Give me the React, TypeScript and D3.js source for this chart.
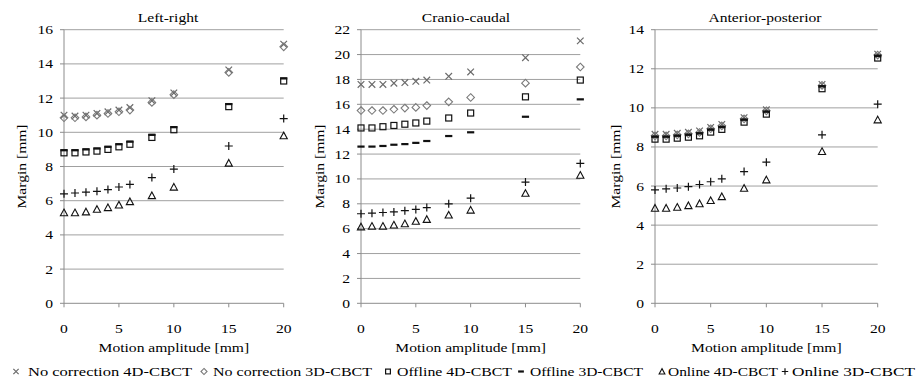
import React from "react";
import * as d3 from "d3";

const amplitudes = [0, 1, 2, 3, 4, 5, 6, 8, 10, 15, 20];
const xTicks = [0, 5, 10, 15, 20];

const panelTitles = ["Left-right", "Cranio-caudal", "Anterior-posterior"];
const yMaxes = [16, 22, 14];

// Left-right
const lrNoCorr4D = [11.0, 10.95, 11.0, 11.1, 11.2, 11.3, 11.45, 11.85, 12.3, 13.65, 15.15];
const lrNoCorr3D = [10.85, 10.85, 10.9, 11.0, 11.1, 11.2, 11.3, 11.75, 12.2, 13.5, 15.0];
const lrOffline4D = [8.8, 8.8, 8.85, 8.9, 9.0, 9.15, 9.3, 9.7, 10.15, 11.5, 13.0];
const lrOffline3D = [8.95, 8.95, 9.0, 9.05, 9.15, 9.3, 9.45, 9.85, 10.3, 11.65, 13.15];
const lrOnline4D = [5.3, 5.3, 5.35, 5.5, 5.6, 5.75, 5.95, 6.3, 6.8, 8.2, 9.8];
const lrOnline3D = [6.4, 6.45, 6.5, 6.55, 6.65, 6.8, 6.95, 7.35, 7.85, 9.2, 10.8];

// Cranio-caudal
const ccNoCorr4D = [17.6, 17.6, 17.6, 17.7, 17.75, 17.85, 17.95, 18.25, 18.6, 19.75, 21.1];
const ccNoCorr3D = [15.5, 15.5, 15.5, 15.6, 15.7, 15.75, 15.9, 16.2, 16.55, 17.7, 19.0];
const ccOffline4D = [14.1, 14.1, 14.2, 14.3, 14.4, 14.5, 14.65, 14.9, 15.3, 16.6, 17.95];
const ccOffline3D = [12.6, 12.6, 12.65, 12.75, 12.8, 12.9, 13.05, 13.45, 13.75, 15.0, 16.4];
const ccOnline4D = [6.15, 6.2, 6.2, 6.3, 6.4, 6.6, 6.75, 7.1, 7.5, 8.85, 10.3];
const ccOnline3D = [7.2, 7.25, 7.3, 7.35, 7.45, 7.55, 7.7, 8.0, 8.45, 9.75, 11.25];

// Anterior-posterior
const apNoCorr4D = [8.65, 8.65, 8.7, 8.75, 8.82, 9.0, 9.15, 9.5, 9.9, 11.2, 12.75];
const apNoCorr3D = [8.57, 8.57, 8.62, 8.67, 8.74, 8.93, 9.08, 9.44, 9.85, 11.15, 12.7];
const apOffline4D = [8.4, 8.4, 8.45, 8.5, 8.57, 8.76, 8.9, 9.27, 9.68, 10.98, 12.55];
const apOffline3D = [8.52, 8.52, 8.57, 8.62, 8.69, 8.88, 9.02, 9.39, 9.8, 11.1, 12.65];
const apOnline4D = [4.87, 4.87, 4.92, 5.0, 5.1, 5.26, 5.46, 5.89, 6.32, 7.77, 9.39];
const apOnline3D = [5.8, 5.86, 5.9, 5.97, 6.08, 6.22, 6.37, 6.74, 7.22, 8.62, 10.19];

const seriesNames = [
  "No correction 4D-CBCT",
  "No correction 3D-CBCT",
  "Offline 4D-CBCT",
  "Offline 3D-CBCT",
  "Online 4D-CBCT",
  "Online 3D-CBCT",
];
const seriesMarkers = ["x", "diamond", "square", "dash", "triangle", "plus"];

const panelSeries = [
  [lrNoCorr4D, lrNoCorr3D, lrOffline4D, lrOffline3D, lrOnline4D, lrOnline3D],
  [ccNoCorr4D, ccNoCorr3D, ccOffline4D, ccOffline3D, ccOnline4D, ccOnline3D],
  [apNoCorr4D, apNoCorr3D, apOffline4D, apOffline3D, apOnline4D, apOnline3D],
];

// layout
const panelLayout = [
  { x0: 64, x1: 283.7, titleX: 168, yTitleX: 26 },
  { x0: 361, x1: 580.3, titleX: 466, yTitleX: 324 },
  { x0: 655, x1: 877.7, titleX: 765, yTitleX: 620 },
];
const Y_BOTTOM = 303.3;
const Y_TOP = 29.7;
const FONT = '"Liberation Serif"';
const SX = 1.2;

const legendLayout = [
  { sx: 16, tx: 28, w: 164 },
  { sx: 204, tx: 213, w: 159 },
  { sx: 388, tx: 397, w: 115 },
  { sx: 521, tx: 530, w: 113 },
  { sx: 662, tx: 668, w: 110 },
  { sx: 785, tx: 792, w: 123 },
];

function Txt({ x, y, children, anchor = "start", rotate = 0, size = 13 }: any) {
  return (
    <text
      transform={`translate(${x},${y}) rotate(${rotate}) scale(${SX},1)`}
      textAnchor={anchor}
      style={{ fontFamily: FONT, fontSize: size }}
      fill="#000"
    >
      {children}
    </text>
  );
}

function Marker({ type, x, y, s = 1 }: { type: string; x: number; y: number; s?: number }) {
  switch (type) {
    case "x": {
      const r = 3.3 * s;
      return (
        <path
          d={`M${x - r},${y - r}L${x + r},${y + r}M${x - r},${y + r}L${x + r},${y - r}`}
          stroke="#6b6b6b"
          strokeWidth={1.2}
          fill="none"
        />
      );
    }
    case "diamond": {
      const r = 3.8 * s;
      return (
        <path
          d={`M${x},${y - r}L${x + r},${y}L${x},${y + r}L${x - r},${y}Z`}
          stroke="#7a7a7a"
          strokeWidth={1.1}
          fill="none"
        />
      );
    }
    case "square": {
      const r = 3 * s;
      return (
        <rect x={x - r} y={y - r} width={2 * r} height={2 * r} stroke="#111" strokeWidth={1.2} fill="none" />
      );
    }
    case "dash": {
      const r = 3.6 * s;
      return <rect x={x - r} y={y - 1.1} width={2 * r} height={2.2} fill="#111" />;
    }
    case "triangle": {
      const r = 3.6 * s;
      return (
        <path
          d={`M${x},${y - r}L${x + r},${y + r * 0.85}L${x - r},${y + r * 0.85}Z`}
          stroke="#111"
          strokeWidth={1.1}
          fill="none"
        />
      );
    }
    case "plus": {
      const r = 4 * s;
      return (
        <path
          d={`M${x - r},${y}L${x + r},${y}M${x},${y - r}L${x},${y + r}`}
          stroke="#111"
          strokeWidth={1.2}
          fill="none"
        />
      );
    }
  }
  return null;
}

function Panel({ idx }: { idx: number }) {
  const L = panelLayout[idx];
  const yMax = yMaxes[idx];
  const x = d3.scaleLinear().domain([0, 20]).range([L.x0, L.x1]);
  const y = d3.scaleLinear().domain([0, yMax]).range([Y_BOTTOM, Y_TOP]);
  const yTicks = d3.range(0, yMax + 0.001, 2);
  const series = panelSeries[idx];
  return (
    <g>
      {yTicks.map((t) => (
        <g key={t}>
          {t > 0 && (
            <line x1={L.x0} x2={L.x1} y1={y(t)} y2={y(t)} stroke="#a0a0a0" strokeWidth={1} />
          )}
          <line x1={L.x0 - 4} x2={L.x0} y1={y(t)} y2={y(t)} stroke="#8c8c8c" strokeWidth={1} />
          <Txt x={L.x0 - 11} y={y(t) + 4.5} anchor="end">
            {t}
          </Txt>
        </g>
      ))}
      <line x1={L.x0} x2={L.x0} y1={Y_BOTTOM} y2={Y_TOP} stroke="#8c8c8c" strokeWidth={1} />
      <line x1={L.x0} x2={L.x1} y1={Y_BOTTOM} y2={Y_BOTTOM} stroke="#8c8c8c" strokeWidth={1} />
      {xTicks.map((t) => (
        <g key={t}>
          <line x1={x(t)} x2={x(t)} y1={Y_BOTTOM} y2={Y_BOTTOM + 4} stroke="#8c8c8c" strokeWidth={1} />
          <Txt x={x(t)} y={333} anchor="middle">
            {t}
          </Txt>
        </g>
      ))}
      <Txt x={(L.x0 + L.x1) / 2} y={351.5} anchor="middle">
        Motion amplitude [mm]
      </Txt>
      <Txt x={L.titleX} y={21.5} anchor="middle">
        {panelTitles[idx]}
      </Txt>
      <Txt x={L.yTitleX} y={(Y_BOTTOM + Y_TOP) / 2} anchor="middle" rotate={-90}>
        Margin [mm]
      </Txt>
      {series.map((vals, si) => (
        <g key={si}>
          {vals.map((v, i) => (
            <Marker key={i} type={seriesMarkers[si]} x={x(amplitudes[i])} y={y(v)} />
          ))}
        </g>
      ))}
    </g>
  );
}

export default function App() {
  return (
    <svg width={922} height={383} style={{ position: "absolute", left: 0, top: 0, background: "#fff" }}>
      <rect width={922} height={383} fill="#fff" />
      {[0, 1, 2].map((i) => (
        <Panel key={i} idx={i} />
      ))}
      {seriesNames.map((name, i) => (
        <g key={name}>
          <Marker type={seriesMarkers[i]} x={legendLayout[i].sx} y={371.5} s={0.8} />
          <text
            x={legendLayout[i].tx}
            y={376}
            style={{ fontFamily: FONT, fontSize: 13.5 }}
            textLength={legendLayout[i].w}
            lengthAdjust="spacingAndGlyphs"
          >
            {name}
          </text>
        </g>
      ))}
    </svg>
  );
}
